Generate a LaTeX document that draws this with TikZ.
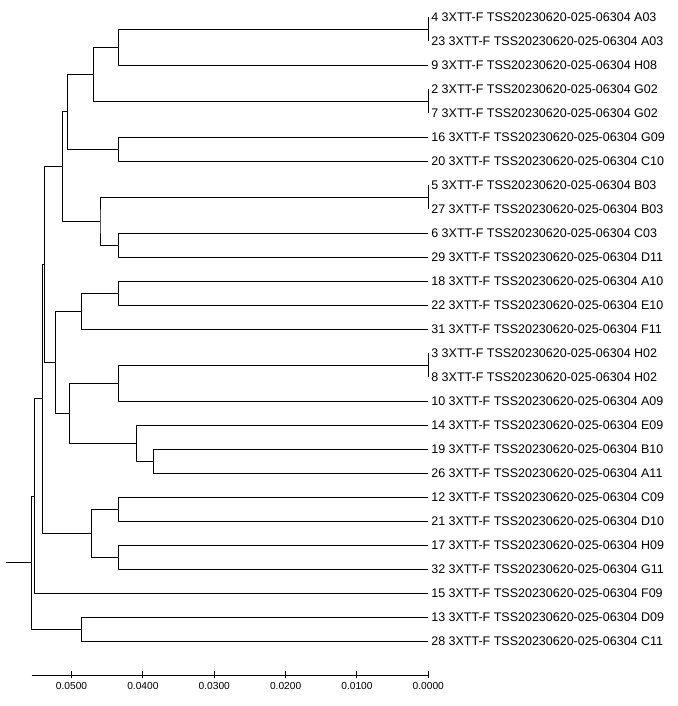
\documentclass[tikz,border=0pt]{standalone}
\usepackage{fontspec}
\setmainfont{Liberation Sans}
\begin{document}
\begin{tikzpicture}[x=1pt,y=-1pt,
  br/.style={draw=black,line width=1pt},
  lab/.style={anchor=west,inner xsep=2.8pt,inner ysep=0pt,text height=8.9pt,text depth=0pt,font=\fontsize{12.5}{14}\selectfont},
  ticklab/.style={anchor=center,inner sep=0pt,text height=7.5pt,text depth=0pt,font=\fontsize{10.2}{12}\selectfont}]
\useasboundingbox (0,0) rectangle (677,706);
% leaves
\foreach \n/\s [count=\i from 0] in {4/A03,23/A03,9/H08,2/G02,7/G02,16/G09,20/C10,5/B03,27/B03,6/C03,29/D11,18/A10,22/E10,31/F11,3/H02,8/H02,10/A09,14/E09,19/B10,26/A11,12/C09,21/D10,17/H09,32/G11,15/F09,13/D09,28/C11}{
  \coordinate (l\n) at (428.3,17.3+24*\i);
  \node[lab] (t\n) at (l\n) {\n\ 3XTT-F TSS20230620-025-06304 \s};
}
% internal nodes
\coordinate (a1) at (428.3,29.3);
\coordinate (a2) at (118.3,47.3);
\coordinate (a3) at (428.3,101.3);
\coordinate (a4) at (93.3,74.3);
\coordinate (a5) at (118.3,149.3);
\coordinate (a6) at (67.3,111.8);
\coordinate (a7) at (428.3,197.3);
\coordinate (a8) at (118.3,245.3);
\coordinate (a9) at (100,221.3);
\coordinate (a10) at (62.3,166.55);
\coordinate (b1) at (118.3,293.3);
\coordinate (b2) at (81.3,311.3);
\coordinate (b3) at (428.3,365.3);
\coordinate (b4) at (118.3,383.3);
\coordinate (b5) at (153.3,461.3);
\coordinate (b6) at (136.3,443.3);
\coordinate (b7) at (69.3,413.3);
\coordinate (b8) at (55.3,362.3);
\coordinate (c1) at (44.3,264.4);
\coordinate (c2) at (118.3,509.3);
\coordinate (c3) at (118.3,557.3);
\coordinate (c4) at (91.3,533.3);
\coordinate (c5) at (42.3,398.9);
\coordinate (c6) at (34.3,496.1);
\coordinate (c7) at (81.3,629.3);
\coordinate (root) at (31.5,562.7);
\coordinate (stub) at (6,562.7);
% branches
\foreach \p/\u/\v in {a1/l4/l23,a2/a1/l9,a3/l2/l7,a4/a2/a3,a5/l16/l20,a6/a4/a5,
  a7/l5/l27,a8/l6/l29,a9/a7/a8,a10/a6/a9,
  b1/l18/l22,b2/b1/l31,b3/l3/l8,b4/b3/l10,b5/l19/l26,b6/l14/b5,b7/b4/b6,b8/b2/b7,
  c1/a10/b8,c2/l12/l21,c3/l17/l32,c4/c2/c3,c5/c1/c4,c6/c5/l15,c7/l13/l28,root/c6/c7}{
  \draw[br] (\u) -| (\p) |- (\v);
}
\draw[br] (stub) -- (root);
% axis
\coordinate (ax0) at (31.5,675);
\coordinate (ax1) at (428.3,675);
\draw[br] (ax0) -- (ax1);
\foreach \d/\t in {0/0.0000,1/0.0100,2/0.0200,3/0.0300,4/0.0400,5/0.0500}{
  \coordinate (tk\d) at (428.3-71.35*\d,675);
  \draw[br] ([yshift=4pt]tk\d) -- ([yshift=-3pt]tk\d);
  \node[ticklab] (tl\d) at (428.3-71.35*\d,685.7) {\t};
}
\end{tikzpicture}
\end{document}
